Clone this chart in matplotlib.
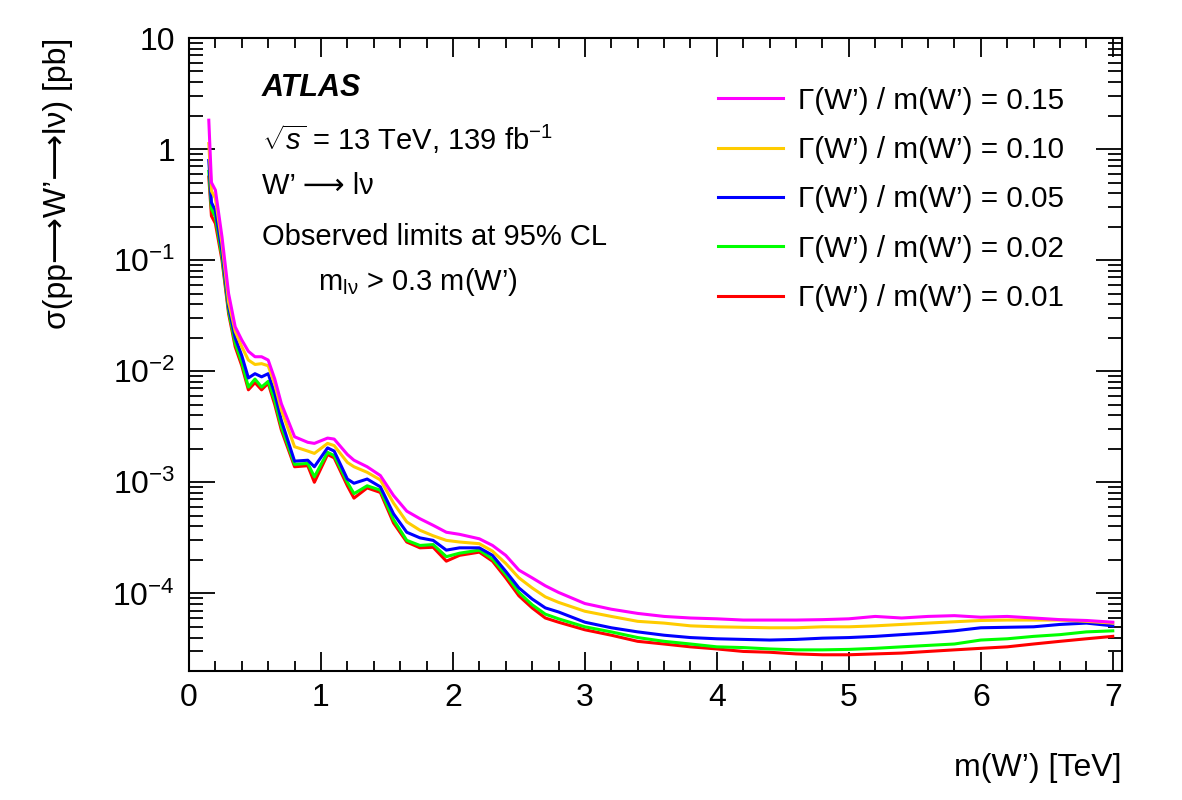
import matplotlib
matplotlib.use("Agg")
import matplotlib.pyplot as plt
from matplotlib.ticker import FixedLocator, FixedFormatter, LogLocator, MultipleLocator, NullFormatter

plt.rcParams['font.family'] = ['Liberation Sans', 'DejaVu Sans']
plt.rcParams['mathtext.fontset'] = 'custom'
plt.rcParams['mathtext.rm'] = 'Liberation Sans'
plt.rcParams['mathtext.it'] = 'Liberation Sans:italic'
plt.rcParams['mathtext.bf'] = 'Liberation Sans:bold'

# W' mass points [TeV]
mass = [0.15, 0.17, 0.2, 0.25, 0.3, 0.35, 0.4, 0.45, 0.5, 0.55, 0.6, 0.65, 0.7, 0.8, 0.9,
        0.95, 1.05, 1.1, 1.2, 1.25, 1.35, 1.45, 1.55, 1.65, 1.75, 1.85, 1.95, 2.05, 2.2,
        2.3, 2.4, 2.5, 2.6, 2.7, 2.8, 3.0, 3.2, 3.4, 3.6, 3.8, 4.0, 4.2, 4.4, 4.6, 4.8,
        5.0, 5.2, 5.4, 5.6, 5.8, 6.0, 6.2, 6.4, 6.6, 6.8, 7.0]

# observed limits [pb] for each relative width
lim_015 = [1.82, 0.50, 0.427, 0.162, 0.050, 0.0251, 0.0191, 0.0151, 0.0135, 0.0135, 0.0126,
           0.0085, 0.0051, 0.00257, 0.00229, 0.00224, 0.0025, 0.00245, 0.00178, 0.00158,
           0.00138, 0.00115, 7.6e-4, 5.5e-4, 4.7e-4, 4.1e-4, 3.55e-4, 3.4e-4, 3.1e-4, 2.7e-4,
           2.2e-4, 1.62e-4, 1.38e-4, 1.17e-4, 1.02e-4, 8.1e-5, 7.2e-5, 6.6e-5, 6.2e-5, 6.0e-5,
           5.9e-5, 5.75e-5, 5.75e-5, 5.75e-5, 5.8e-5, 5.9e-5, 6.2e-5, 6.0e-5, 6.2e-5, 6.3e-5,
           6.1e-5, 6.2e-5, 6.0e-5, 5.8e-5, 5.7e-5, 5.5e-5]
lim_010 = [1.12, 0.42, 0.36, 0.141, 0.042, 0.0229, 0.0166, 0.0126, 0.0115, 0.0117, 0.0112,
           0.0076, 0.00447, 0.00209, 0.00191, 0.00182, 0.00224, 0.00214, 0.00151, 0.00138,
           0.00123, 0.00105, 6.5e-4, 4.4e-4, 3.7e-4, 3.3e-4, 3.0e-4, 2.9e-4, 2.8e-4, 2.4e-4,
           1.86e-4, 1.38e-4, 1.12e-4, 9.3e-5, 8.3e-5, 6.9e-5, 6.2e-5, 5.6e-5, 5.4e-5, 5.1e-5,
           5.0e-5, 4.95e-5, 4.9e-5, 4.9e-5, 5.0e-5, 5.0e-5, 5.1e-5, 5.25e-5, 5.4e-5, 5.55e-5,
           5.7e-5, 5.75e-5, 5.75e-5, 5.75e-5, 5.6e-5, 5.4e-5]
lim_005 = [0.79, 0.33, 0.28, 0.12, 0.038, 0.020, 0.0138, 0.0087, 0.0095, 0.0089, 0.0095,
           0.0063, 0.0036, 0.00155, 0.00158, 0.00138, 0.00204, 0.00191, 0.00107, 9.8e-4,
           1.07e-3, 9.1e-4, 5.2e-4, 3.55e-4, 3.16e-4, 3.0e-4, 2.45e-4, 2.57e-4, 2.57e-4, 2.2e-4,
           1.58e-4, 1.12e-4, 8.9e-5, 7.4e-5, 6.8e-5, 5.5e-5, 4.9e-5, 4.5e-5, 4.2e-5, 4.0e-5,
           3.9e-5, 3.85e-5, 3.8e-5, 3.85e-5, 3.95e-5, 4.0e-5, 4.1e-5, 4.25e-5, 4.4e-5, 4.6e-5,
           4.9e-5, 4.95e-5, 5.0e-5, 5.25e-5, 5.4e-5, 5.1e-5]
lim_002 = [0.63, 0.29, 0.245, 0.107, 0.035, 0.0178, 0.012, 0.0072, 0.0085, 0.0072, 0.0081,
           0.0054, 0.00316, 0.00145, 0.00148, 0.00112, 0.00186, 0.00174, 0.0010, 7.9e-4,
           9.3e-4, 8.5e-4, 4.6e-4, 3.0e-4, 2.7e-4, 2.75e-4, 2.14e-4, 2.3e-4, 2.45e-4, 2.04e-4,
           1.48e-4, 1.02e-4, 7.9e-5, 6.5e-5, 5.9e-5, 5.0e-5, 4.5e-5, 4.0e-5, 3.7e-5, 3.5e-5,
           3.3e-5, 3.25e-5, 3.16e-5, 3.1e-5, 3.1e-5, 3.13e-5, 3.2e-5, 3.3e-5, 3.4e-5, 3.5e-5,
           3.8e-5, 3.9e-5, 4.1e-5, 4.25e-5, 4.5e-5, 4.6e-5]
lim_001 = [0.56, 0.25, 0.214, 0.10, 0.033, 0.0166, 0.0112, 0.0068, 0.0079, 0.0068, 0.0078,
           0.0050, 0.00295, 0.00138, 0.00141, 0.0010, 0.00178, 0.00166, 9.3e-4, 7.2e-4,
           8.9e-4, 8.1e-4, 4.3e-4, 2.9e-4, 2.57e-4, 2.6e-4, 1.95e-4, 2.2e-4, 2.35e-4, 1.95e-4,
           1.38e-4, 9.5e-5, 7.4e-5, 6.0e-5, 5.5e-5, 4.7e-5, 4.2e-5, 3.7e-5, 3.5e-5, 3.3e-5,
           3.16e-5, 3.0e-5, 2.95e-5, 2.85e-5, 2.8e-5, 2.8e-5, 2.85e-5, 2.9e-5, 3.0e-5, 3.1e-5,
           3.2e-5, 3.3e-5, 3.5e-5, 3.7e-5, 3.9e-5, 4.1e-5]

labels = ['Γ(W’) / m(W’) = 0.15', 'Γ(W’) / m(W’) = 0.10', 'Γ(W’) / m(W’) = 0.05',
          'Γ(W’) / m(W’) = 0.02', 'Γ(W’) / m(W’) = 0.01']
colors = ['#ff00ff', '#ffcc00', '#0000ff', '#00ff00', '#ff0000']
series = [lim_015, lim_010, lim_005, lim_002, lim_001]

W, H = 1182, 800
fig = plt.figure(figsize=(W / 100, H / 100), dpi=100)
ax = fig.add_axes([189 / W, 1 - 671 / H, (1122 - 189) / W, (671 - 38) / H])

# draw narrowest first so the wide ones end up on top
handles = [None] * 5
for i in [4, 3, 2, 1, 0]:
    handles[i], = ax.plot(mass, series[i], color=colors[i], lw=2.2, label=labels[i])

ax.set_yscale('log')
ax.set_xlim(0, 7.07)
ax.set_ylim(2e-5, 10)

ax.xaxis.set_major_locator(MultipleLocator(1))
ax.xaxis.set_minor_locator(MultipleLocator(0.2))
ax.yaxis.set_major_locator(FixedLocator([1e-4, 1e-3, 1e-2, 1e-1, 1, 10]))
ax.yaxis.set_major_formatter(FixedFormatter(['$10^{-4}$', '$10^{-3}$', '$10^{-2}$', '$10^{-1}$', '1', '10']))
ax.yaxis.set_minor_locator(LogLocator(base=10, subs=range(2, 10), numticks=20))
ax.yaxis.set_minor_formatter(NullFormatter())

ax.tick_params(which='both', direction='in', top=True, right=True, width=1.3, labelsize=23)
ax.tick_params(which='major', axis='x', length=14, pad=9)
ax.tick_params(which='minor', axis='x', length=7)
ax.tick_params(which='major', axis='y', length=19, pad=10)
ax.tick_params(which='minor', axis='y', length=10)
for sp in ax.spines.values():
    sp.set_linewidth(1.5)

fig.text(1122 / W, 1 - 776 / H, 'm(W’) [TeV]', ha='right', va='baseline', fontsize=23)
fig.text(58 / W, 1 - 38 / H, 'σ(pp⟶W’⟶lν) [pb]', rotation=90, ha='center', va='top', fontsize=23)

fig.text(262 / W, 1 - 96 / H, 'ATLAS', fontsize=22, fontweight='bold', fontstyle='italic')
fig.text(262 / W, 1 - 150 / H, r'$\sqrt{s}$ = 13 TeV, 139 fb$^{-1}$', fontsize=21)
fig.text(262 / W, 1 - 194 / H, 'W’ ⟶ lν', fontsize=21)
fig.text(262 / W, 1 - 245 / H, 'Observed limits at 95% CL', fontsize=21)
fig.text(318 / W, 1 - 290 / H, r'm$_{\mathregular{lν}}$ > 0.3 m(W’)', fontsize=21)

ax.legend(handles=handles, loc='upper left', bbox_to_anchor=(706 / W, 1 - 75 / H),
          bbox_transform=fig.transFigure, frameon=False, fontsize=21.3,
          handlelength=2.2, handletextpad=0.5, labelspacing=0.72, borderaxespad=0)

fig.savefig('out.png', dpi=100)
